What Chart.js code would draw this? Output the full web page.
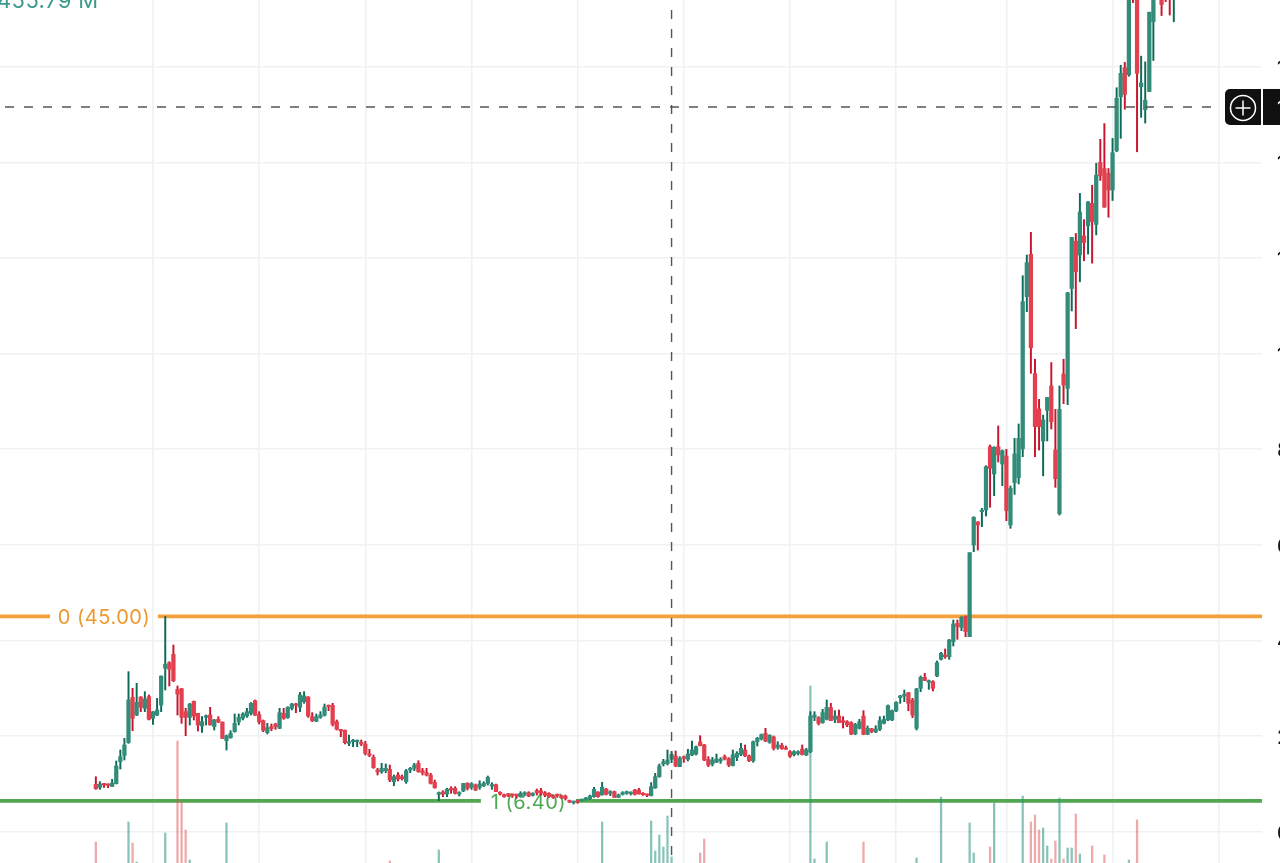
<!DOCTYPE html>
<html>
<head>
<meta charset="utf-8">
<title>Price chart</title>
<script src="https://cdn.jsdelivr.net/npm/chart.js@4"></script>
<style>
  html, body { margin: 0; background: #fff; overflow: hidden; }
  #wrap { position: relative; width: 1280px; height: 863px; overflow: hidden; }
  #plot { position: absolute; left: 0; top: 0; }
  #vol-label { position: absolute; left: -3px; top: -13px; font: 22px Inter, sans-serif; letter-spacing: .4px; color: #3c9a8b; }
</style>
</head>
<body>
<div id="wrap">
  <canvas id="plot" width="1330" height="863"></canvas>
  <div id="vol-label">455.79 M</div>
</div>
<script>
// ==== 1. Data ====
const opens = [9.87,9.24,10.01,9.87,9.45,10.01,14.61,15.93,18.58,28.07,24.37,28.14,25.77,28.21,23.67,24.37,26.46,34.13,35.32,37.06,
  29.74,29.88,25.07,23.88,27.23,24.72,22.07,23.88,24.37,21.93,23.47,22.91,19.0,19.63,20.88,22.91,23.67,24.16,24.72,27.37,
  24.44,23.19,20.68,21.93,22.49,21.58,24.72,23.81,25.77,26.67,25.98,27.16,28.14,24.02,23.05,23.88,24.3,26.32,26.39,22.98,
  21.37,21.16,18.44,18.79,18.79,18.58,18.31,16.21,15.52,12.87,12.51,12.72,13.0,10.42,11.82,11.47,10.42,12.86,13.21,14.26,
  12.72,12.3,11.82,10.28,7.77,8.26,7.84,9.03,9.03,7.84,8.47,10.07,9.24,9.72,9.24,9.58,10.07,9.51,9.79,8.19,
  7.7,7.84,7.77,7.7,7.28,7.77,8.12,7.56,8.54,8.54,8.12,7.98,7.42,7.7,7.49,7.42,6.45,6.03,6.45,6.45,
  6.72,6.86,7.28,8.26,7.63,8.82,7.98,8.33,7.14,7.77,7.98,7.91,8.68,8.68,7.98,7.77,7.5,9.1,11.47,14.12,
  14.19,15.1,15.8,13.57,15.66,15.1,16.0,16.21,18.73,18.1,15.1,14.12,14.47,14.75,15.66,15.24,13.77,15.52,16.15,17.05,
  15.8,14.82,18.79,19.35,20.54,18.66,19.77,17.61,18.03,17.47,16.7,16.08,16.35,17.26,16.01,16.7,23.89,23.82,22.77,23.47,
  25.91,23.47,24.16,23.19,22.98,22.77,20.4,21.58,24.16,20.33,21.51,20.82,21.38,22.63,23.33,23.33,25.21,28.0,28.35,29.05,
  27.51,21.58,29.95,32.25,31.21,31.35,32.53,36.02,36.92,36.57,39.71,43.55,42.71,44.94,40.76,59.94,64.75,66.91,67.26,80.51,
  74.79,80.51,76.88,78.55,64.12,72.98,74.02,80.02,111.9,120.74,95.8,88.4,81.7,88.1,93.2,79.8,66.5,95.7,92.7,113.6,
  123.5,120.6,124.6,126.7,131.4,127,140,138.7,137.7,134.2,142.4,153.7,159.8,158.3,182,180,155.8,151,154.8,169.4,
  177,176,177,177,174.5];
const highs = [11.47,10.42,10.08,9.94,10.91,14.75,17.05,19.49,33.44,29.95,31,28.21,29.25,28.56,25.07,27.86,32.53,45,35.53,39.02,
  30.44,29.95,25.77,26.81,27.3,24.72,24.02,24.37,25.98,23.47,24.02,22.91,20.19,21.09,24.58,24.58,24.86,25.77,26.95,27.51,
  25.07,23.33,22.63,22.49,22.63,25.77,25.77,26.12,26.81,26.81,29.11,29.25,28.21,24.86,24.58,25.07,26.67,26.46,26.81,23.33,
  21.37,21.23,20.19,19.28,19.14,19.14,18.86,17.19,16,13.21,14.26,14.12,13.91,11.82,12.3,11.82,13,13.42,14.26,14.81,
  13.21,13.21,12.16,10.77,8.26,8.54,9.03,9.37,9.37,8.33,10.07,10.21,10.21,9.93,10.63,10.42,11.61,10.21,9.93,8.33,
  7.84,7.98,7.84,7.84,8.33,8.33,8.33,8.12,8.89,9.03,8.33,8.12,7.63,7.84,7.63,7.63,6.58,6.38,6.58,6.79,
  7.14,7.63,9.24,8.33,10.28,9.03,8.54,8.47,7.84,8.33,8.47,8.33,8.82,9.03,8.12,7.84,10.22,12.17,14.12,15.1,
  17.05,16.7,16.84,15.66,15.8,17.19,18.93,17.89,20.05,18.24,15.66,15.52,16.21,15.45,16.01,15.45,17.05,16.7,18.45,18.1,
  16.01,18.93,19.7,20.4,21.58,20.26,19.98,18.79,18.45,17.89,16.91,16.91,16.91,18.1,17.4,25.07,25.07,24.03,25.56,27.51,
  26.81,25.28,25.42,24.03,23.19,22.98,22.63,23.47,25.28,22.07,21.58,22.14,24.03,24.16,26.47,25.42,27.16,28.49,29.6,29.12,
  27.86,29.95,32.53,33.09,31.7,31.56,35.67,37.48,38.18,40.2,44.25,44.25,44.94,45.08,58.33,65.86,64.82,67.61,76.53,80.86,
  80.51,84.83,79.81,79.95,72.28,82.25,85.25,116.28,120.6,125.35,98.8,90.4,87.1,90.8,98.1,88.3,93.2,98.8,112.8,124.3,
  125.1,133.5,128,131.8,135.2,139.8,144.8,148.1,138.7,145,155.6,160.3,160.9,182,185,186,162.2,161,171.4,182,
  182,180,179,180,180];
const lows = [8.82,8.82,9.24,9.17,9.38,9.94,13.07,14.96,18.44,21.1,24.23,25.07,25.07,23.33,22.42,24.23,25.07,29.6,30.44,31.35,
  24.37,22.63,20.05,22.28,23.33,21.02,20.75,22.28,22.28,21.23,22.77,19.42,17.05,19.49,20.75,22.28,23.33,23.88,24.37,24.3,
  22.49,20.88,20.4,21.09,21.37,21.51,23.47,23.67,25.42,24.86,25.07,26.81,23.88,22.98,22.98,23.67,24.16,25.28,22.07,21.23,
  19.84,18.31,17.96,17.75,17.75,17.96,16,15.65,13.21,11.82,12.16,12.3,10.42,9.58,10.56,10.77,10.07,12.3,12.72,12.37,
  11.82,11.61,9.93,9.03,6.45,7.28,7.28,7.98,7.84,7.42,8.33,8.68,8.82,8.54,8.82,9.37,9.72,8.82,8.33,7.63,
  7.14,7.28,7.14,6.93,7.14,7.42,7.28,7.42,7.63,7.63,7.28,7.14,6.93,7.14,6.93,6.58,6.03,5.75,5.89,6.38,
  6.58,6.72,7.14,7.14,7.63,7.63,7.49,7.14,7.07,7.63,7.77,7.63,7.63,7.84,7.56,7.28,7.43,9.03,11.33,13.71,
  13.91,14.4,13.57,13.57,14.47,14.75,15.87,16,17.89,14.82,13.57,13.71,14.4,14.26,14.96,13.57,13.71,14.82,15.87,15.66,
  14.61,14.47,17.89,19.14,18.79,18.45,17.05,17.19,17.19,17.19,15.52,15.8,16.01,16.01,15.87,16.49,23.19,22.28,22.63,23.33,
  23.19,22.77,22.77,21.65,21.93,20.26,20.26,21.44,20.26,20.26,20.68,20.68,21.1,22.49,23.19,23.19,25.07,26.81,27.16,25.28,
  23.82,21.24,29.26,31.56,29.74,29.39,32.39,35.88,36.23,36.02,38.81,40.2,42.01,40.76,40.76,58.54,58.89,63.77,66,67.82,
  70.26,77.3,72.35,65.03,63.42,70.53,72.7,78.42,108.75,95.85,78.4,79.8,74.4,81.7,84.2,72,66.2,89.5,89.3,108.9,
  105.2,115,119.4,120.8,118.9,124.8,136.2,130.6,128.5,132,142.2,145,151.1,158,173.4,142.2,149.4,148.2,154.8,161.3,
  176,170.7,173.6,170.8,169.4];
const closes = [8.96,9.94,9.73,9.66,10.15,13.7,15.66,18.1,27.51,23.67,27.02,25.98,27.72,23.47,25.07,25.42,32.53,34.97,33.93,31.55,
  28.76,23.88,23.88,26.67,24.16,22.28,22.98,24.23,22.28,23.33,22.91,19.49,20.05,20.54,22.63,23.88,24.58,25.07,26.81,24.3,
  22.91,21.16,21.72,21.51,21.93,24.86,23.67,25.98,26.67,26.39,28.56,28.35,24.16,23.19,24.02,24.37,25.98,26.11,22.42,21.37,
  21.02,18.58,18.79,19.07,19,18.31,16.35,15.93,13.35,12.45,13.21,13.21,10.77,11.47,10.98,11.05,12.72,13.21,13.91,12.51,
  12.3,11.82,10.07,9.17,8.12,7.84,8.82,8.68,7.98,8.12,10.07,9.03,10,8.68,9.93,10.07,11.33,9.79,8.33,7.84,
  7.28,7.56,7.56,7.49,7.98,8.12,7.42,7.98,8.12,7.98,7.56,7.28,7.14,7.49,7.07,6.86,6.17,6.24,6.17,6.72,
  7,7.42,8.82,7.28,9.24,7.77,8.33,7.14,7.63,8.12,8.33,8.12,7.77,7.84,7.7,7.56,9.38,11.47,13.71,14.61,
  14.96,16.15,13.7,15.31,15.31,16.21,17.05,17.75,17.96,14.96,13.91,14.96,15.17,15.1,15.17,13.91,16.01,16.35,17.4,15.8,
  14.82,18.79,19.49,20.26,18.93,20.12,17.4,18.1,17.33,17.19,15.73,16.7,16.7,16.08,17.05,24.16,24.37,22.63,24.86,25.98,
  23.19,24.16,22.77,22.84,22.28,20.4,22.42,22.98,20.33,21.58,20.89,21.44,23.19,23.47,26.33,25.28,27.02,28.35,28.7,26.81,
  24.37,29.81,32.25,31.56,31.56,29.95,35.32,37.27,36.57,40.06,43.41,42.85,44.8,41.8,58.33,65.72,64.12,67.12,76.32,75.97,
  80.37,78.76,79.67,67.12,71.79,78.97,82.25,110.84,119,101.2,84.7,84.7,86.1,90.8,85.7,73.8,88.3,93.4,112.7,124.3,
  117.1,129.6,123.2,131.7,127.6,137.3,137.2,130.6,134.2,142,153.4,158.6,154.2,178,174,158.6,156.6,153,171.4,178,
  181,173,175,174.5,177];

// volume bars that reach into the visible strip, everything else sits below the crop
const volumeBars = [1,9,10,11,18,21,22,23,24,33,73,85,125,137,138,139,140,141,142,149,150,176,177,180,189,202,208,215,216,220,221,228,230,231,232,233,234,235,236,237,238,239,240,241,242,245,248,254,256];
const volumeValues = [21,41,20,1,30,122,61,33,3,40,2,13,41,42,12,28,16,47,6,10,24,177,4,21,21,5,66,40,10,16,60,67,41,48,33,35,17,4,22,65,4,15,15,49,9,17,8,3,43];

const gridBars = [15,41,67,93,119,145,171,197,224,250,276];
const yTicks = [0,20,40,60,80,100,120,140,160];

const upperLevel = 45.00;
const upperLabel = '0 (45.00)';
const upperGap = [-10.2, 16.2];
const lowerLevel = 6.40;
const lowerLabel = '1 (6.40)';
const lowerGap = [95.3, 118.6];

const crossBar = 142;
const crossPrice = 151.57;

const xMin = -22.47, xMax = 286.6;
const yMin = -6.59, yMax = 173.95;

// ==== 2. Helpers ====
const barIndex = opens.map((_, i) => i + 1);
const isUp = i => closes[i] >= opens[i];

function levelLine(level, gap) {
  return [
    { x: xMin, y: level }, { x: gap[0], y: level }, { x: gap[0], y: null },
    { x: gap[1], y: level }, { x: xMax, y: level }
  ];
}

// ==== 3. Overlays ====
const levelLabels = {
  id: 'levelLabels',
  beforeDatasetsDraw(chart) {
    const { ctx, scales: { x, y } } = chart;
    ctx.save();
    ctx.font = '20px Inter, sans-serif';
    ctx.letterSpacing = '0.5px';
    ctx.textAlign = 'center';
    ctx.textBaseline = 'middle';
    ctx.fillStyle = '#ec9a2e';
    ctx.fillText(upperLabel, x.getPixelForValue((upperGap[0] + upperGap[1]) / 2), y.getPixelForValue(upperLevel) + 2);
    ctx.fillStyle = '#4caa52';
    ctx.fillText(lowerLabel, x.getPixelForValue((lowerGap[0] + lowerGap[1]) / 2), y.getPixelForValue(lowerLevel) + 2);
    ctx.restore();
  }
};

const crosshair = {
  id: 'crosshair',
  afterDraw(chart) {
    const { ctx, chartArea, scales: { x, y } } = chart;
    const cx = x.getPixelForValue(crossBar);
    const cy = y.getPixelForValue(crossPrice);
    ctx.save();
    ctx.strokeStyle = '#555';
    ctx.lineWidth = 1.4;
    ctx.setLineDash([9, 10]);
    ctx.beginPath();
    ctx.moveTo(5, cy);
    ctx.lineTo(1218, cy);
    ctx.moveTo(cx, 10);
    ctx.lineTo(cx, chartArea.bottom);
    ctx.stroke();
    ctx.setLineDash([]);

    // plus button and the price tag next to it
    ctx.fillStyle = '#101010';
    ctx.beginPath();
    ctx.roundRect(1225, cy - 18, 36, 36, [5, 0, 0, 5]);
    ctx.fill();
    ctx.fillRect(1263, cy - 18, 40, 36);
    ctx.strokeStyle = '#fff';
    ctx.lineWidth = 1.5;
    ctx.beginPath();
    ctx.arc(1243, cy + 1, 12.5, 0, Math.PI * 2);
    ctx.moveTo(1235.5, cy + 1);
    ctx.lineTo(1250.5, cy + 1);
    ctx.moveTo(1243, cy - 6.5);
    ctx.lineTo(1243, cy + 8.5);
    ctx.stroke();
    ctx.fillStyle = '#fff';
    ctx.font = '20px Inter, sans-serif';
    ctx.textBaseline = 'middle';
    ctx.fillText(crossPrice.toFixed(2), 1277, cy + 2);
    ctx.restore();
  }
};

// ==== 4. Chart ====
new Chart(document.getElementById('plot'), {
  type: 'bar',
  data: {
    datasets: [
      {
        label: 'Bodies',
        data: barIndex.map((b, i) => ({ x: b, y: [opens[i], closes[i]] })),
        barThickness: 3.6,
        minBarLength: 1.5,
        grouped: false,
        order: 1,
        backgroundColor: c => isUp(c.dataIndex) ? '#338c7a' : '#e2404e'
      },
      {
        label: 'Wicks',
        data: barIndex.map((b, i) => ({ x: b, y: [lows[i], highs[i]] })),
        barThickness: 1.3,
        grouped: false,
        order: 2,
        backgroundColor: c => isUp(c.dataIndex) ? '#0b6b58' : '#c8142c'
      },
      {
        label: 'Volume',
        yAxisID: 'y1',
        data: volumeBars.map((b, i) => ({ x: b, y: volumeValues[i] })),
        barThickness: 1.6,
        grouped: false,
        order: 3,
        backgroundColor: c => isUp(volumeBars[c.dataIndex] - 1) ? 'rgba(38,145,128,.55)' : 'rgba(222,84,84,.5)'
      },
      {
        type: 'line',
        label: 'Level 0',
        data: levelLine(upperLevel, upperGap),
        borderColor: '#f3a03a',
        borderWidth: 3.6,
        pointRadius: 0,
        spanGaps: false,
        order: 5
      },
      {
        type: 'line',
        label: 'Level 1',
        data: levelLine(lowerLevel, lowerGap),
        borderColor: '#51a851',
        borderWidth: 3.6,
        pointRadius: 0,
        spanGaps: false,
        order: 5
      }
    ]
  },
  options: {
    responsive: false,
    animation: false,
    layout: { padding: 0 },
    plugins: { legend: { display: false }, tooltip: { enabled: false } },
    scales: {
      x: {
        type: 'linear',
        min: xMin,
        max: xMax,
        offset: false,
        border: { display: false },
        grid: { offset: false, color: '#eff0f2', lineWidth: 1.5, drawTicks: false },
        ticks: { display: false },
        afterBuildTicks: s => { s.ticks = gridBars.map(value => ({ value })); }
      },
      y: {
        position: 'right',
        min: yMin,
        max: yMax,
        border: { display: false },
        grid: { color: '#f0f1f3', lineWidth: 1.5, drawTicks: false },
        afterBuildTicks: s => { s.ticks = yTicks.map(value => ({ value })); },
        afterFit: s => { s.width = 68; s.paddingTop = 0; s.paddingBottom = 0; },
        ticks: {
          padding: 15,
          labelOffset: 2,
          color: '#131722',
          font: { family: 'Inter', size: 20, weight: 500 },
          callback: v => v.toFixed(2)
        }
      },
      y1: { display: false, min: 0, max: 863 }
    }
  },
  plugins: [levelLabels, crosshair]
});
</script>
</body>
</html>
